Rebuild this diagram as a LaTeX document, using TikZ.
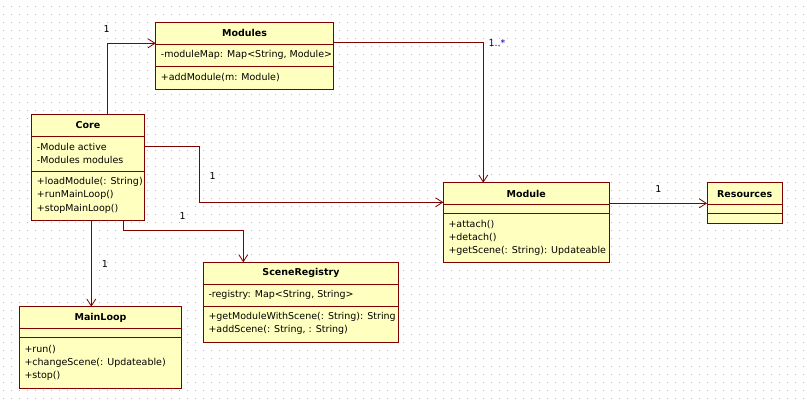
\documentclass[tikz,border=0pt]{standalone}
\usepackage{fontspec}
\setmainfont{DejaVu Sans}
\usetikzlibrary{arrows.meta}
\definecolor{umlred}{RGB}{128,0,0}
\definecolor{umlfill}{RGB}{255,255,192}
\definecolor{multblue}{RGB}{0,0,170}

\begin{document}
\begin{tikzpicture}[x=1pt,y=-1pt,
    classbox/.style={draw=umlred,fill=umlfill,line width=1pt,inner sep=0pt,outer sep=0pt,anchor=north west},
    classline/.style={umlred,line width=1pt},
    title/.style={font=\fontsize{9.5}{12}\selectfont\bfseries,inner sep=0pt},
    member/.style={font=\fontsize{9.5}{13.3}\selectfont,align=left,anchor=west,inner sep=0pt},
    assoc/.style={umlred,line width=1pt,-{Straight Barb[length=7pt,width=9pt,line width=0.8pt]}},
    mult/.style={font=\fontsize{9.5}{12}\selectfont,inner sep=0pt},
    dotgrid/.style={gray!55,line width=1pt,dash pattern=on 1pt off 7pt}]
    \useasboundingbox (0,0) rectangle (807,400);
    \fill[white] (0,0) rectangle (807,400);
    \foreach \gy in {6,14,...,398} \draw[dotgrid] (2.5,\gy) -- (807,\gy);

    \node[classbox,minimum width=177.6,minimum height=67] (modules) at (155.7,22.3) {};
    \draw[classline] ([yshift=-22pt]modules.north west) -- ([yshift=-22pt]modules.north east);
    \draw[classline] ([yshift=-44pt]modules.north west) -- ([yshift=-44pt]modules.north east);
    \node[title] (modulesT) at ([yshift=-11pt]modules.north) {Modules};
    \node[member] (modulesA) at ([xshift=5pt,yshift=-33pt]modules.north west) {-moduleMap: Map<String, Module>};
    \node[member] (modulesM) at ([xshift=5pt,yshift=-55.5pt]modules.north west) {+addModule(m: Module)};

    \node[classbox,minimum width=112.6,minimum height=106] (core) at (31.7,114.3) {};
    \draw[classline] ([yshift=-22pt]core.north west) -- ([yshift=-22pt]core.north east);
    \draw[classline] ([yshift=-57pt]core.north west) -- ([yshift=-57pt]core.north east);
    \node[title] (coreT) at ([yshift=-11pt]core.north) {Core};
    \node[member] (coreA) at ([xshift=5pt,yshift=-39.5pt]core.north west) {-Module active\\-Modules modules};
    \node[member] (coreM) at ([xshift=5pt,yshift=-81pt]core.north west) {+loadModule(: String)\\+runMainLoop()\\+stopMainLoop()};

    \node[classbox,minimum width=166,minimum height=79.3] (module) at (443.3,182.7) {};
    \draw[classline] ([yshift=-21.6pt]module.north west) -- ([yshift=-21.6pt]module.north east);
    \draw[classline] ([yshift=-30.6pt]module.north west) -- ([yshift=-30.6pt]module.north east);
    \node[title] (moduleT) at ([yshift=-11pt]module.north) {Module};
    \node[member] (moduleM) at ([xshift=5pt,yshift=-55pt]module.north west) {+attach()\\+detach()\\+getScene(: String): Updateable};

    \node[classbox,minimum width=75.3,minimum height=40.6] (resources) at (707,182.7) {};
    \draw[classline] ([yshift=-21.6pt]resources.north west) -- ([yshift=-21.6pt]resources.north east);
    \draw[classline] ([yshift=-30.6pt]resources.north west) -- ([yshift=-30.6pt]resources.north east);
    \node[title] (resourcesT) at ([yshift=-11pt]resources.north) {Resources};

    \node[classbox,minimum width=162.4,minimum height=81.6] (mainloop) at (19.3,306.7) {};
    \draw[classline] ([yshift=-22pt]mainloop.north west) -- ([yshift=-22pt]mainloop.north east);
    \draw[classline] ([yshift=-30.6pt]mainloop.north west) -- ([yshift=-30.6pt]mainloop.north east);
    \node[title] (mainloopT) at ([yshift=-11pt]mainloop.north) {MainLoop};
    \node[member] (mainloopM) at ([xshift=5pt,yshift=-56pt]mainloop.north west) {+run()\\+changeScene(: Updateable)\\+stop()};

    \node[classbox,minimum width=195.4,minimum height=80] (scenes) at (203.3,262.3) {};
    \draw[classline] ([yshift=-22pt]scenes.north west) -- ([yshift=-22pt]scenes.north east);
    \draw[classline] ([yshift=-44pt]scenes.north west) -- ([yshift=-44pt]scenes.north east);
    \node[title] (scenesT) at ([yshift=-11pt]scenes.north) {SceneRegistry};
    \node[member] (scenesA) at ([xshift=5pt,yshift=-33pt]scenes.north west) {-registry: Map<String, String>};
    \node[member] (scenesM) at ([xshift=5pt,yshift=-61pt]scenes.north west) {+getModuleWithScene(: String): String\\+addScene(: String, : String)};

    \draw[assoc] ([xshift=75.6pt]core.north west) |- ([yshift=-21pt]modules.north west);
    \draw[assoc] ([yshift=-20pt]modules.north east) -| ([xshift=40pt]module.north west);
    \draw[assoc] ([yshift=-32.4pt]core.north east) -- ++(55,0) |- ([yshift=-19.6pt]module.north west);
    \draw[assoc] ([xshift=91.6pt]core.south west) -- ++(0,10) -| ([xshift=40pt]scenes.north west);
    \draw[assoc] ([xshift=59.6pt]core.south west) -- ([xshift=72pt]mainloop.north west);
    \draw[assoc] ([yshift=-20.6pt]module.north east) -- ([yshift=-20.6pt]resources.north west);

    \node[mult] (m1) at (106.7,29.3) {1};
    \node[mult,text=multblue] (m2) at (497,42.5) {1..*};
    \node[mult] (m3) at (212.7,175.7) {1};
    \node[mult] (m4) at (182.7,216) {1};
    \node[mult] (m5) at (105,264.3) {1};
    \node[mult] (m6) at (658.3,189.3) {1};
\end{tikzpicture}
\end{document}
